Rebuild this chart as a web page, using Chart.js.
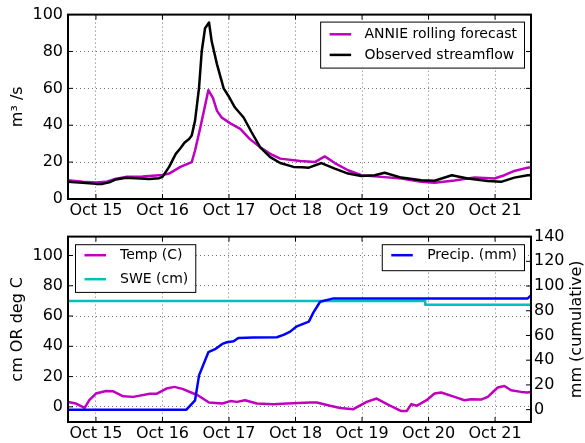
<!DOCTYPE html>
<html>
<head>
<meta charset="utf-8">
<script src="https://cdn.jsdelivr.net/npm/chart.js@4.4.0/dist/chart.umd.min.js"></script>
<style>
body { margin: 0; background: #fff; width: 585px; height: 443px; overflow: hidden; position: relative; }
#top { position: absolute; left: 0; top: 0; }
#bot { position: absolute; left: 0; top: 222px; }
</style>
</head>
<body>
<canvas id="top" width="585" height="222"></canvas>
<canvas id="bot" width="585" height="221"></canvas>
<script>
// x is days since Oct 15 00:00
var dayTicks = [0, 1, 2, 3, 4, 5, 6];
var dayLabels = ['Oct 15', 'Oct 16', 'Oct 17', 'Oct 18', 'Oct 19', 'Oct 20', 'Oct 21'];
var xMin = -0.42, xMax = 6.54;

var flowTicks = [0, 20, 40, 60, 80, 100];
var leftTicks = [0, 20, 40, 60, 80, 100];
var precipTicks = [0, 20, 40, 60, 80, 100, 120, 140];

// streamflow, m3/s
var annieDays = [-0.42, -0.2, 0.0, 0.15, 0.3, 0.45, 0.7, 1.0, 1.1, 1.27, 1.44, 1.49, 1.57, 1.69, 1.76, 1.82, 1.89, 2.02, 2.17, 2.31, 2.47, 2.62, 2.77, 3.07, 3.29, 3.44, 3.59, 3.79, 3.99, 4.29, 4.59, 4.89, 5.09, 5.39, 5.69, 5.99, 6.14, 6.29, 6.49, 6.54];
var annieFlow = [10.2, 9.3, 9.0, 9.3, 11, 12, 12.2, 13, 13.8, 17.4, 20, 26.3, 38.9, 59, 54.7, 47.8, 44.2, 41, 38, 32.6, 28, 24.5, 21.9, 20.6, 20, 23.1, 19.5, 15.6, 12.9, 12, 11.1, 9.3, 8.8, 10, 11.6, 11.1, 12.9, 15.2, 17, 17.2];

var obsDays = [-0.42, -0.2, 0.0, 0.1, 0.2, 0.3, 0.45, 0.6, 0.8, 0.95, 1.0, 1.1, 1.2, 1.27, 1.33, 1.4, 1.44, 1.49, 1.55, 1.59, 1.64, 1.70, 1.74, 1.82, 1.92, 1.99, 2.09, 2.22, 2.34, 2.47, 2.62, 2.77, 2.97, 3.1, 3.2, 3.39, 3.59, 3.79, 3.99, 4.19, 4.34, 4.59, 4.89, 5.09, 5.35, 5.59, 5.89, 6.09, 6.29, 6.49, 6.54];
var obsFlow = [9.3, 8.8, 8.2, 8.2, 9.0, 10.6, 11.5, 11.3, 10.8, 11.3, 12, 17.4, 24.5, 27.5, 30.5, 32.5, 34.4, 42.5, 60.4, 80, 92.6, 95.7, 85.5, 73, 60, 56, 49.6, 44.2, 36.2, 28, 22.7, 19.5, 17.4, 17.2, 17.0, 19.5, 16.5, 13.8, 12.5, 12.9, 14.2, 11.6, 10.2, 9.9, 12.9, 11.1, 9.7, 9.3, 11.6, 12.9, 12.9];

// temperature, deg C
var tempDays = [-0.42, -0.30, -0.17, -0.1, 0.0, 0.15, 0.26, 0.41, 0.56, 0.81, 0.91, 1.06, 1.18, 1.31, 1.43, 1.53, 1.70, 1.90, 2.02, 2.12, 2.24, 2.42, 2.67, 2.87, 3.22, 3.32, 3.52, 3.67, 3.87, 4.07, 4.22, 4.39, 4.59, 4.67, 4.74, 4.82, 4.97, 5.09, 5.19, 5.39, 5.54, 5.64, 5.79, 5.89, 6.04, 6.14, 6.24, 6.39, 6.49, 6.54];
var temp = [3.3, 2.2, -0.7, 4.4, 8.8, 10.5, 10.3, 7, 6.6, 8.6, 8.6, 12.1, 13.2, 11.7, 9.5, 7.7, 2.9, 2.2, 3.8, 3.3, 4.4, 2.2, 1.8, 2.2, 2.9, 2.9, 0.7, -0.7, -1.5, 3.3, 5.5, 1.5, -2.8, -2.8, 1.8, 0.7, 4.4, 8.8, 9.5, 6.6, 4.4, 5.0, 4.8, 6.6, 12.8, 13.8, 11.0, 9.9, 9.5, 9.8];

// snow water equivalent, cm
var sweDays = [-0.42, 4.95, 4.95, 6.54];
var swe = [70, 70, 67.5, 67.5];

// cumulative precipitation, mm
var precipDays = [-0.42, 1.36, 1.42, 1.49, 1.55, 1.69, 1.80, 1.90, 1.97, 2.07, 2.14, 2.37, 2.72, 2.82, 2.92, 3.02, 3.20, 3.27, 3.37, 3.57, 6.49, 6.54];
var precip = [0, 0, 3.5, 7.5, 27.7, 46.5, 49.2, 53.2, 54.5, 55.3, 58, 58.3, 58.6, 60.5, 63.1, 67.4, 71.2, 78.7, 87.3, 90, 90, 92.5];

Chart.defaults.font.family = 'DejaVu Sans';
Chart.defaults.font.size = 16;
Chart.defaults.color = '#000';

function pts(xs, ys) {
    return xs.map(function (x, i) { return {x: x, y: ys[i]}; });
}

function setTicks(vals) {
    return function (scale) {
        scale.ticks = vals.map(function (v) { return {value: v}; });
    };
}

var gridColor = 'rgba(0,0,0,0.55)';

function xScale(h) {
    return {
        type: 'linear', min: xMin, max: xMax,
        afterBuildTicks: setTicks(dayTicks),
        afterFit: function (s) { s.height = h; },
        ticks: {
            padding: 2, maxRotation: 0, autoSkip: false,
            callback: function (v, i) { return dayLabels[i]; }
        },
        grid: {color: gridColor, drawTicks: false, lineWidth: 1},
        border: {display: false, dash: [1, 3]}
    };
}

function line(label, xs, ys, color, order) {
    return {
        label: label, data: pts(xs, ys), borderColor: color, backgroundColor: color,
        borderWidth: 2.5, pointRadius: 0, tension: 0, fill: false, order: order,
        borderJoinStyle: 'round'
    };
}

// frame, inward ticks, boxed legends, right title
var framePlugin = {
    id: 'frame',
    afterDatasetsDraw: function (chart, args, opts) {
        var ctx = chart.ctx, a = chart.chartArea, L = 5;
        ctx.save();
        ctx.strokeStyle = '#000';
        ctx.lineWidth = 1;
        ctx.beginPath();
        var x = chart.scales.x;
        x.ticks.forEach(function (t) {
            var p = x.getPixelForValue(t.value);
            ctx.moveTo(p, a.top); ctx.lineTo(p, a.top + L);
            ctx.moveTo(p, a.bottom); ctx.lineTo(p, a.bottom - L);
        });
        var yl = chart.scales.y, yr = chart.scales.y2;
        yl.ticks.forEach(function (t) {
            var p = yl.getPixelForValue(t.value);
            ctx.moveTo(a.left, p); ctx.lineTo(a.left + L, p);
            if (!yr) { ctx.moveTo(a.right, p); ctx.lineTo(a.right - L, p); }
        });
        if (yr) {
            yr.ticks.forEach(function (t) {
                var p = yr.getPixelForValue(t.value);
                ctx.moveTo(a.right, p); ctx.lineTo(a.right - L, p);
            });
        }
        ctx.stroke();
        ctx.lineWidth = 2;
        ctx.strokeRect(a.left, a.top, a.right - a.left, a.bottom - a.top);

        ctx.font = '14px DejaVu Sans';
        ctx.textBaseline = 'middle';
        (opts.legends || []).forEach(function (lg) {
            var sets = lg.items.map(function (i) { return chart.data.datasets[i]; });
            var tw = Math.max.apply(null, sets.map(function (d) { return ctx.measureText(d.label).width; }));
            var w = lg.textX + tw + 7;
            var bx = lg.side === 'right' ? a.right - lg.dx - w : a.left + lg.dx;
            var by = a.top + lg.dy;
            ctx.fillStyle = '#fff';
            ctx.fillRect(bx, by, w, lg.h);
            ctx.lineWidth = 1;
            ctx.strokeStyle = '#000';
            ctx.strokeRect(bx + 0.5, by + 0.5, w, lg.h);
            sets.forEach(function (d, k) {
                var ry = by + lg.row0 + k * lg.step;
                ctx.strokeStyle = d.borderColor;
                ctx.lineWidth = 2.5;
                ctx.beginPath();
                ctx.moveTo(bx + 9.5, ry); ctx.lineTo(bx + 31, ry);
                ctx.stroke();
                ctx.fillStyle = '#000';
                ctx.fillText(d.label, bx + lg.textX, ry);
            });
        });

        if (opts.rightTitle) {
            ctx.font = '16px DejaVu Sans';
            ctx.fillStyle = '#000';
            ctx.textAlign = 'center';
            ctx.translate(opts.rightTitle.x, (a.top + a.bottom) / 2);
            ctx.rotate(-Math.PI / 2);
            ctx.fillText(opts.rightTitle.text, 0, 0);
        }
        ctx.restore();
    }
};

new Chart(document.getElementById('top'), {
    type: 'line',
    data: {
        datasets: [
            line('ANNIE rolling forecast', annieDays, annieFlow, '#bf00bf', 2),
            line('Observed streamflow', obsDays, obsFlow, '#000000', 1)
        ]
    },
    options: {
        responsive: false, animation: false, events: [],
        layout: {padding: {left: 0, top: 13, right: 54, bottom: 0}},
        plugins: {
            legend: {display: false}, tooltip: {enabled: false},
            frame: {legends: [{items: [0, 1], side: 'right', dx: 7, dy: 7, textX: 44.4, row0: 12.7, step: 20.6, h: 46}]}
        },
        scales: {
            x: xScale(23),
            y: {
                type: 'linear', min: 0, max: 100,
                afterBuildTicks: setTicks(flowTicks),
                afterFit: function (s) { s.width = 68; },
                ticks: {padding: 5},
                title: {display: true, text: 'm³ /s', padding: {top: 8, bottom: 0}},
                grid: {color: gridColor, drawTicks: false, lineWidth: 1},
                border: {display: false, dash: [1, 3]}
            }
        }
    },
    plugins: [framePlugin]
});

new Chart(document.getElementById('bot'), {
    type: 'line',
    data: {
        datasets: [
            line('Temp (C)', tempDays, temp, '#bf00bf', 3),
            line('SWE (cm)', sweDays, swe, '#00bfbf', 2),
            Object.assign(line('Precip. (mm)', precipDays, precip, '#0000ff', 1), {yAxisID: 'y2'})
        ]
    },
    options: {
        responsive: false, animation: false, events: [],
        layout: {padding: {left: 0, top: 14, right: 0, bottom: 0}},
        plugins: {
            legend: {display: false}, tooltip: {enabled: false},
            frame: {
                legends: [
                    {items: [0, 1], side: 'left', dx: 7, dy: 7.6, textX: 45, row0: 11, step: 24, h: 47.7},
                    {items: [2], side: 'right', dx: 7, dy: 7.6, textX: 45.4, row0: 11, step: 24, h: 26}
                ],
                rightTitle: {text: 'mm (cumulative)', x: 577}
            }
        },
        scales: {
            x: xScale(21),
            y: {
                type: 'linear', position: 'left', min: -10, max: 112.5,
                afterBuildTicks: setTicks(leftTicks),
                afterFit: function (s) { s.width = 68; },
                ticks: {padding: 5},
                title: {display: true, text: 'cm OR deg C', padding: {top: 8, bottom: 0}},
                grid: {color: gridColor, drawTicks: false, lineWidth: 1},
                border: {display: false, dash: [1, 3]}
            },
            y2: {
                type: 'linear', position: 'right', min: -10, max: 140,
                afterBuildTicks: setTicks(precipTicks),
                afterFit: function (s) { s.width = 54; },
                ticks: {padding: 3},
                grid: {display: false, drawTicks: false},
                border: {display: false}
            }
        }
    },
    plugins: [framePlugin]
});
</script>
</body>
</html>
